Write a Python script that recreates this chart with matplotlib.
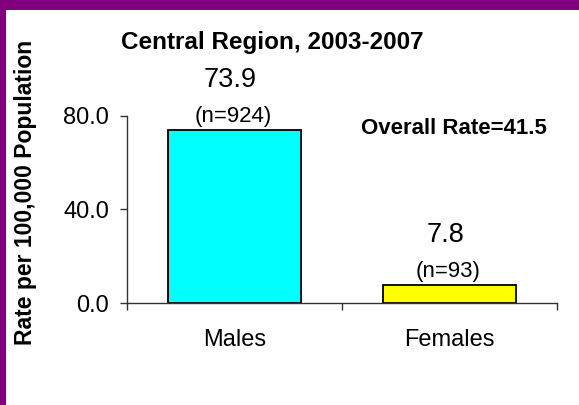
"""
Bar chart of rates by sex, Central Region 2003-2007.
"""
import numpy as np
import matplotlib
matplotlib.use("Agg")
import matplotlib.pyplot as plt
from matplotlib.patches import Rectangle

plt.rcParams['font.family'] = ['Liberation Sans', 'DejaVu Sans']

# data
categories = ["Males", "Females"]
rates = [73.9, 7.8]
counts = [924, 93]
bar_colors = ["#00FFFF", "#FFFF00"]
overall_rate = 41.5
y_ticks = [0.0, 40.0, 80.0]

fig = plt.figure(figsize=(5.79, 4.05), dpi=100)
fig.patch.set_facecolor("#800080")
# white panel inside the purple frame
fig.patches.append(Rectangle((6 / 579, 0), 1, 1 - 10 / 405, transform=fig.transFigure,
                             facecolor="white", edgecolor="none", zorder=-10))

ax = fig.add_axes([127 / 579, 1 - 303 / 405, 430 / 579, 187 / 405])
ax.set_facecolor("none")
ax.set_zorder(5)

x = np.arange(len(categories))
bars = ax.bar(x, rates, width=0.62, color=bar_colors, edgecolor="black", linewidth=1.3)

ax.set_xlim(-0.5, 1.5)
ax.set_ylim(0, 80)
ax.set_yticks(y_ticks)
ax.set_yticklabels(["%.1f" % v for v in y_ticks], fontsize=17)
ax.set_xticks([-0.5, 0.5, 1.5])
ax.set_xticklabels([])
ax.set_xticks(x, minor=True)
ax.set_xticklabels(categories, minor=True, fontsize=17)
ax.tick_params(axis="x", which="minor", length=0, pad=19)
ax.tick_params(axis="x", which="major", length=5, width=1, color="#333333")
ax.tick_params(axis="y", length=5, width=1, color="#333333", pad=8)

for side in ["top", "right"]:
    ax.spines[side].set_visible(False)
for side in ["left", "bottom"]:
    ax.spines[side].set_color("#333333")
    ax.spines[side].set_linewidth(1)

for xi, r, n in zip(x, rates, counts):
    ax.annotate("(n=%d)" % n, (xi, r), xytext=(-1, 2), textcoords="offset points",
                ha="center", va="bottom", fontsize=16, clip_on=False)
    ax.annotate("%.1f" % r, (xi, r), xytext=(-3, 36), textcoords="offset points",
                ha="center", va="center", fontsize=19.5, clip_on=False)

fig.text(454 / 579, 1 - 128 / 405, "Overall Rate=%.1f" % overall_rate,
         ha="center", va="center", fontsize=16, fontweight="bold")
fig.text(272 / 579, 1 - 42 / 405, "Central Region, 2003-2007",
         ha="center", va="center", fontsize=17.5, fontweight="bold")
fig.text(26 / 579, 1 - 192 / 405, "Rate per 100,000 Population", rotation=90,
         ha="center", va="center", fontsize=16.5, fontweight="bold")

plt.savefig("out.png", dpi=100, facecolor=fig.get_facecolor())
